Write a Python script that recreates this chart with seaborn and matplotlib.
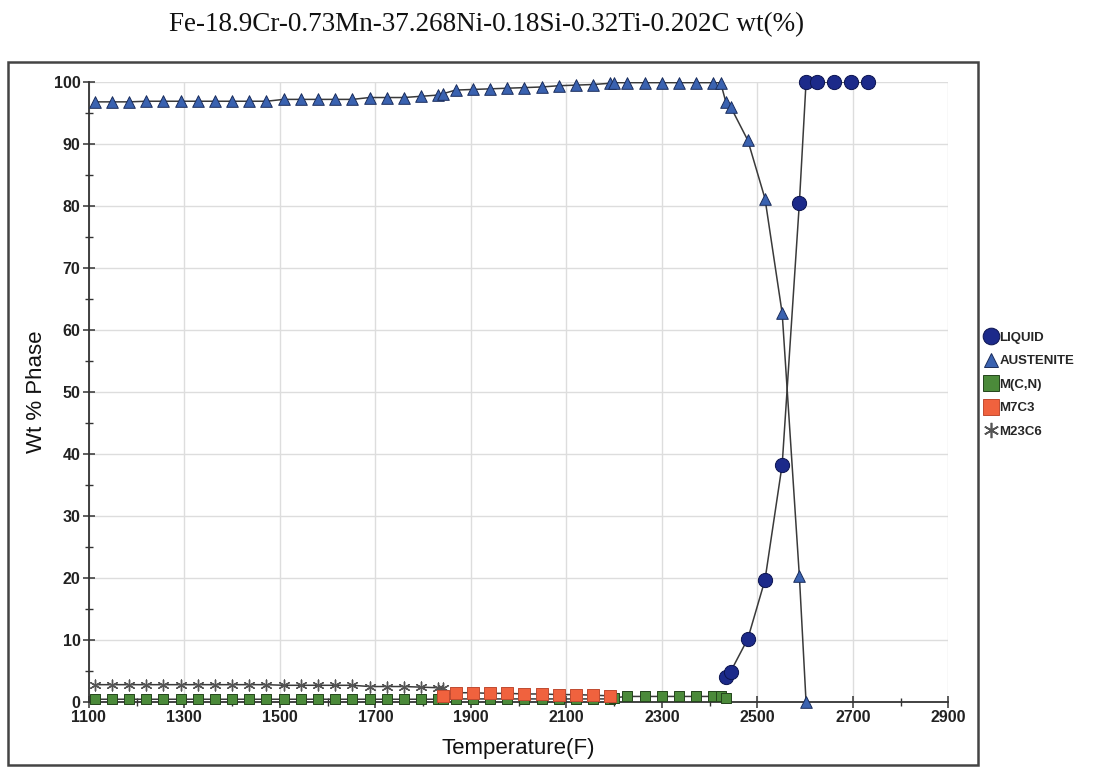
import pandas as pd
import matplotlib
matplotlib.use('Agg')
import matplotlib.pyplot as plt
from matplotlib.lines import Line2D
from matplotlib.patches import Rectangle
from matplotlib.ticker import MultipleLocator
import seaborn as sns

# Equilibrium phase amounts (wt %) vs temperature (F)
liquid_T = [2434, 2444, 2480, 2516, 2552, 2588, 2602, 2624, 2660, 2696, 2732]
liquid_wt = [4.0, 4.9, 10.2, 19.7, 38.3, 80.5, 100, 100, 100, 100, 100]

austenite_T = [1112, 1148, 1184, 1220, 1256, 1292, 1328, 1364, 1400, 1436, 1472,
               1508, 1544, 1580, 1616, 1652, 1688, 1724, 1760, 1796, 1832, 1841,
               1868, 1904, 1940, 1976, 2012, 2048, 2084, 2120, 2156, 2192, 2200,
               2228, 2264, 2300, 2336, 2372, 2408, 2423, 2434, 2444, 2480, 2516,
               2552, 2588, 2602]
austenite_wt = [96.8, 96.8, 96.8, 96.9, 96.9, 96.9, 96.9, 96.9, 96.9, 96.9, 96.9,
                97.2, 97.2, 97.2, 97.2, 97.2, 97.5, 97.5, 97.5, 97.7, 97.9, 98.1,
                98.7, 98.8, 98.9, 99.0, 99.1, 99.2, 99.4, 99.5, 99.6, 99.8, 99.9,
                99.9, 99.9, 99.9, 99.9, 99.9, 99.9, 99.9, 96.8, 96.0, 90.6, 81.2,
                62.7, 20.3, 0.0]

mcn_T = [1112, 1148, 1184, 1220, 1256, 1292, 1328, 1364, 1400, 1436, 1472,
         1508, 1544, 1580, 1616, 1652, 1688, 1724, 1760, 1796, 1832, 1841,
         1868, 1904, 1940, 1976, 2012, 2048, 2084, 2120, 2156, 2192, 2200,
         2228, 2264, 2300, 2336, 2372, 2408, 2423, 2434]
mcn_wt = [0.45, 0.45, 0.45, 0.45, 0.45, 0.45, 0.45, 0.45, 0.45, 0.45, 0.45,
          0.45, 0.45, 0.45, 0.45, 0.45, 0.45, 0.45, 0.45, 0.45, 0.45, 0.45,
          0.5, 0.5, 0.5, 0.5, 0.5, 0.5, 0.5, 0.5, 0.5, 0.5, 0.7,
          0.9, 0.9, 0.9, 0.9, 0.9, 0.9, 0.9, 0.7]

m7c3_T = [1841, 1868, 1904, 1940, 1976, 2012, 2048, 2084, 2120, 2156, 2192]
m7c3_wt = [1.0, 1.5, 1.5, 1.4, 1.4, 1.3, 1.3, 1.2, 1.2, 1.1, 1.0]

m23c6_T = [1112, 1148, 1184, 1220, 1256, 1292, 1328, 1364, 1400, 1436, 1472,
           1508, 1544, 1580, 1616, 1652, 1688, 1724, 1760, 1796, 1832, 1841]
m23c6_wt = [2.8, 2.8, 2.8, 2.8, 2.8, 2.8, 2.8, 2.8, 2.8, 2.8, 2.8,
            2.7, 2.7, 2.7, 2.7, 2.7, 2.5, 2.5, 2.5, 2.4, 2.3, 2.2]

phases = ['LIQUID', 'AUSTENITE', 'M(C,N)', 'M7C3', 'M23C6']
series = {
    'LIQUID': (liquid_T, liquid_wt),
    'AUSTENITE': (austenite_T, austenite_wt),
    'M(C,N)': (mcn_T, mcn_wt),
    'M7C3': (m7c3_T, m7c3_wt),
    'M23C6': (m23c6_T, m23c6_wt),
}

frames = []
for p in phases:
    t, w = series[p]
    frames.append(pd.DataFrame({'T': t, 'wt': w, 'phase': p}))
data = pd.concat(frames, ignore_index=True)

# marker style per phase: colour, edge, marker, size, zorder
styles = {
    'LIQUID': dict(color='#1c2a8a', edge='#0c1450', marker='o', s=105, z=6),
    'AUSTENITE': dict(color='#3a62b0', edge='#1a2d5c', marker='^', s=70, z=5),
    'M(C,N)': dict(color='#4b8a3a', edge='#24451c', marker='s', s=52, z=3),
    'M7C3': dict(color='#f0623e', edge='#c04a30', marker='s', s=64, z=4),
    'M23C6': dict(color='#555555', edge='#555555', marker=(6, 2, 0), s=60, z=2),
}

sns.set_style("whitegrid")
plt.rcParams['font.family'] = ['Liberation Sans', 'DejaVu Sans']

fig = plt.figure(figsize=(11.19, 7.68), dpi=100)
ax = fig.add_axes([0.0794, 0.0859, 0.7681, 0.8073])

# connecting lines
sns.lineplot(data=data, x='T', y='wt', units='phase', estimator=None, sort=False,
             color='#3a3a3a', linewidth=1.1, ax=ax, legend=False, zorder=1)

# markers
for p in ['M23C6', 'M(C,N)', 'M7C3', 'AUSTENITE', 'LIQUID']:
    st = styles[p]
    sub = data[data['phase'] == p]
    if p == 'M23C6':
        sns.scatterplot(data=sub, x='T', y='wt', marker=st['marker'], s=st['s'],
                        color=st['color'], linewidth=1.0, ax=ax, legend=False,
                        zorder=st['z'])
    else:
        sns.scatterplot(data=sub, x='T', y='wt', marker=st['marker'], s=st['s'],
                        color=st['color'], edgecolor=st['edge'], linewidth=0.7,
                        ax=ax, legend=False, zorder=st['z'])
for c in ax.collections:
    c.set_clip_on(False)

ax.set_xlim(1100, 2900)
ax.set_ylim(0, 100)
ax.xaxis.set_major_locator(MultipleLocator(200, offset=1100))
ax.xaxis.set_minor_locator(MultipleLocator(100))
ax.yaxis.set_major_locator(MultipleLocator(10))
ax.yaxis.set_minor_locator(MultipleLocator(5))
ax.grid(True, which='major', color='#dddddd', linewidth=1.0)
ax.grid(False, which='minor')

for side in ['top', 'right']:
    ax.spines[side].set_visible(False)
for side in ['left', 'bottom']:
    ax.spines[side].set_color('#333333')
    ax.spines[side].set_linewidth(1.3)

ax.tick_params(which='major', direction='inout', length=8, width=1.1, color='#333333',
               labelsize=11.5, pad=2, left=True, bottom=True)
ax.tick_params(which='minor', direction='inout', length=6, width=1.0, color='#333333',
               left=True, bottom=True)
for lab in ax.get_xticklabels() + ax.get_yticklabels():
    lab.set_fontweight('bold')
    lab.set_color('#222222')

ax.set_xlabel('Temperature(F)', fontsize=16, labelpad=9, color='#111111')
ax.set_ylabel('Wt % Phase', fontsize=16, labelpad=5, color='#111111')

fig.text(0.435, 0.968, 'Fe-18.9Cr-0.73Mn-37.268Ni-0.18Si-0.32Ti-0.202C wt(%)',
         ha='center', va='center', fontsize=19.5, family=['Liberation Serif', 'DejaVu Serif'],
         color='#111111')

# outer frame around the plot region
fig.patches.append(Rectangle((0.0072, 0.004), 0.8669, 0.9155, transform=fig.transFigure,
                             fill=False, edgecolor='#444444', linewidth=1.8))

handles = []
for p in phases:
    st = styles[p]
    if p == 'M23C6':
        h = Line2D([], [], linestyle='none', marker=st['marker'], markersize=11,
                   color=st['color'], markeredgewidth=1.2)
    else:
        size = {'LIQUID': 12, 'AUSTENITE': 10, 'M(C,N)': 12, 'M7C3': 12}[p]
        h = Line2D([], [], linestyle='none', marker=st['marker'], markersize=size,
                   markerfacecolor=st['color'], markeredgecolor=st['edge'],
                   markeredgewidth=0.7)
    handles.append(h)
fig.legend(handles, phases, loc='upper left', bbox_to_anchor=(0.876, 0.575),
           frameon=False, prop={'weight': 'bold', 'size': 9.5},
           handlelength=0.9, handletextpad=0.15, labelspacing=0.85, borderaxespad=0)

fig.savefig('out.png', dpi=100)
